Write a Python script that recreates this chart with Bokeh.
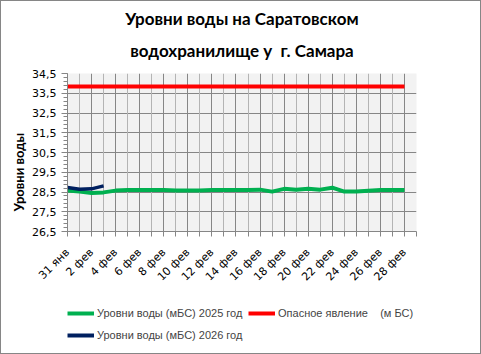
from math import pi
from bokeh.plotting import figure
from bokeh.layouts import column
from bokeh.models import (FixedTicker, Grid, Legend, LegendItem, Title,
                          CustomJSTickFormatter, Range1d)
from bokeh.embed import file_html
from bokeh.resources import INLINE

# ---------------- data ----------------
dates = ["31 янв", "1 фев", "2 фев", "3 фев", "4 фев", "5 фев", "6 фев", "7 фев",
         "8 фев", "9 фев", "10 фев", "11 фев", "12 фев", "13 фев", "14 фев", "15 фев",
         "16 фев", "17 фев", "18 фев", "19 фев", "20 фев", "21 фев", "22 фев", "23 фев",
         "24 фев", "25 фев", "26 фев", "27 фев", "28 фев"]
level_2025 = [28.58, 28.52, 28.45, 28.48, 28.57, 28.60, 28.60, 28.60, 28.60, 28.58,
              28.57, 28.58, 28.60, 28.60, 28.60, 28.60, 28.62, 28.52, 28.66, 28.61,
              28.66, 28.62, 28.72, 28.52, 28.52, 28.56, 28.60, 28.60, 28.60]
level_2026 = [28.73, 28.64, 28.66, 28.81]
danger = [33.84, 33.84, 33.84, 33.84, 33.84, 33.84, 33.84, 33.84, 33.84, 33.84,
          33.84, 33.84, 33.84, 33.84, 33.84, 33.84, 33.84, 33.84, 33.84, 33.84,
          33.84, 33.84, 33.84, 33.84, 33.84, 33.84, 33.84, 33.84, 33.84]
y_ticks = [26.5, 27.5, 28.5, 29.5, 30.5, 31.5, 32.5, 33.5, 34.5]
title_lines = ["Уровни воды на Саратовском", "водохранилище у\u00a0\u00a0г. Самара"]
y_title = "Уровни воды"
series_names = ["Уровни воды (мБС) 2025 год", "Уровни воды (мБС) 2026 год",
                "Опасное явление\u00a0\u00a0\u00a0\u00a0(м\u00a0БС)"]
colors = ["#00B050", "#002060", "#FF0000"]

n_slots = len(dates) + 1
x_idx = list(range(len(dates)))
x_2026 = x_idx[:len(level_2026)]
tick_labels = [d if i % 2 == 0 else "" for i, d in enumerate(dates)]

TICK_FONT = "DejaVu Sans"
LEG_FONT = "Liberation Sans"
GRID_DARK = "#868686"
GRID_LIGHT = "#B4B4B4"
W = 479

p = figure(width=W, height=290, output_backend="svg", toolbar_location=None,
           x_range=Range1d(0, n_slots - 1), y_range=Range1d(y_ticks[0], y_ticks[-1]),
           min_border_left=66, min_border_right=64, min_border_top=72,
           min_border_bottom=48)
p.background_fill_color = "#F2F2F2"
p.border_fill_color = "white"
p.outline_line_color = None

# grids
p.xgrid.ticker = FixedTicker(ticks=[i for i in range(n_slots) if i % 2 == 0])
p.xgrid.grid_line_color = GRID_DARK
p.add_layout(Grid(dimension=0, ticker=FixedTicker(ticks=[i for i in range(n_slots) if i % 2 == 1]),
                  grid_line_color=GRID_LIGHT))
p.ygrid.ticker = FixedTicker(ticks=y_ticks)
p.ygrid.grid_line_color = GRID_DARK

# axes
xa = p.xaxis[0]
xa.ticker = FixedTicker(ticks=list(range(n_slots)))
xa.formatter = CustomJSTickFormatter(args=dict(labels=tick_labels),
    code="const i = Math.round(tick); return (i >= 0 && i < labels.length) ? labels[i] : '';")
xa.major_label_orientation = pi / 4
xa.major_label_text_font = TICK_FONT
xa.major_label_text_font_size = "11px"
xa.major_label_text_color = "black"
xa.major_label_standoff = 14
xa.major_tick_out = 5
xa.major_tick_in = 0
xa.minor_tick_out = 0
xa.axis_line_color = GRID_DARK
xa.major_tick_line_color = GRID_DARK

ya = p.yaxis[0]
minor = [round(y_ticks[0] + 0.2 * k, 2) for k in range(41)]
ya.ticker = FixedTicker(ticks=y_ticks, minor_ticks=minor)
ya.formatter = CustomJSTickFormatter(code="return tick.toFixed(1).replace('.', ',');")
ya.major_label_text_font = TICK_FONT
ya.major_label_text_font_size = "11px"
ya.major_label_text_color = "black"
ya.major_tick_out = 6
ya.major_tick_in = 0
ya.minor_tick_out = 4
ya.minor_tick_in = 0
ya.axis_line_color = GRID_DARK
ya.major_tick_line_color = GRID_DARK
ya.minor_tick_line_color = GRID_DARK

# series
p.line(x_idx, level_2025, line_color=colors[0], line_width=4, line_join="round")
p.line(x_idx, danger, line_color=colors[2], line_width=4)
p.line(x_2026, level_2026, line_color=colors[1], line_width=3.5, line_join="round")

# titles (nearest to the frame first)
t2 = Title(text=title_lines[1], align="center", vertical_align="top",
           text_font="Lato", text_font_style="bold",
           text_font_size="17px", text_color="black", standoff=22)
t1 = Title(text=title_lines[0], align="center", text_font="Lato", text_font_style="bold",
           text_font_size="17px", text_color="black", standoff=0)
p.add_layout(t2, "above")
p.add_layout(t1, "above")
ty = Title(text=y_title, align="left", offset=20, text_font="Lato", text_font_style="bold",
           text_font_size="13px", text_color="black", standoff=6)
p.add_layout(ty, "left")

# legend panel: same series, drawn outside its visible ranges, only the legend shows
lg = figure(width=W, height=62, output_backend="svg", toolbar_location=None,
            x_axis_type=None, y_axis_type=None, x_range=Range1d(-100, -99),
            y_range=Range1d(0, 1), min_border=0)
lg.grid.visible = False
lg.outline_line_color = None
lg.background_fill_color = "white"
lg.border_fill_color = "white"
rg = lg.line(x_idx, level_2025, line_color=colors[0], line_width=4)
rn = lg.line(x_2026, level_2026, line_color=colors[1], line_width=4)
rr = lg.line(x_idx, danger, line_color=colors[2], line_width=4)

# column-major fill: first column 2025 / 2026, second column danger level
leg = Legend(items=[LegendItem(label=series_names[0], renderers=[rg]),
                    LegendItem(label=series_names[1], renderers=[rn]),
                    LegendItem(label=series_names[2], renderers=[rr])],
             ncols=2, location=(0, 9),
             label_text_font=LEG_FONT, label_text_font_size="11px",
             glyph_width=27, glyph_height=18, label_height=18, label_width=147,
             label_standoff=3, spacing=4, padding=0, margin=0,
             border_line_color=None, background_fill_alpha=0)
lg.add_layout(leg)

layout = column(p, lg, spacing=0)
layout.styles = {"border": "1px solid #868686"}

open("out.html", "w").write(file_html(layout, INLINE))
